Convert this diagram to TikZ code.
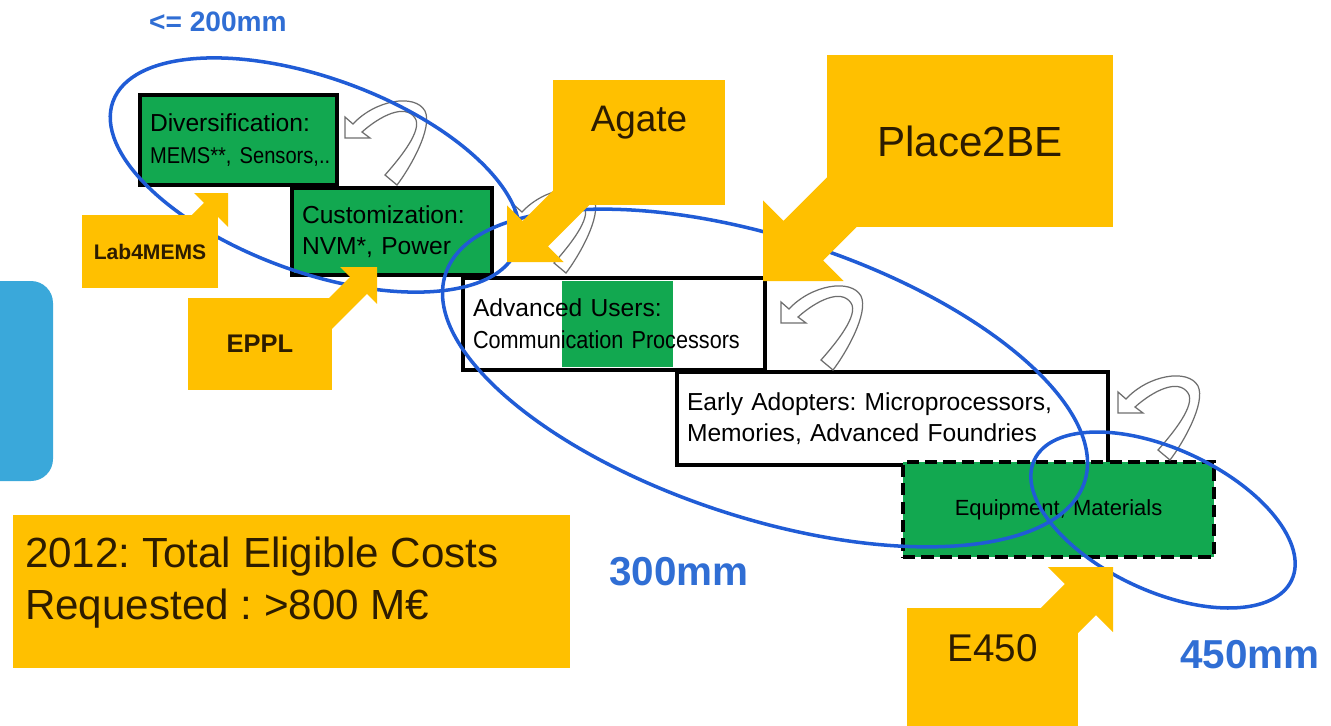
\documentclass[tikz,border=0pt]{standalone}
\usepackage{fontspec}
\setmainfont{Liberation Sans}
\newfontfamily\narrowfont[FakeStretch=0.88]{Liberation Sans}
\usepackage{xcolor}
\definecolor{boxgreen}{RGB}{18,168,80}
\definecolor{callyellow}{RGB}{255,192,0}
\definecolor{ringblue}{RGB}{32,92,214}
\definecolor{sizeblue}{RGB}{48,110,212}
\definecolor{tabblue}{RGB}{58,168,218}
\definecolor{calltext}{RGB}{45,28,0}
\definecolor{turngray}{RGB}{110,110,110}
\frenchspacing
\tikzstyle{stage}=[draw=black, line width=2.2pt, inner xsep=0.2cm, inner ysep=0pt, align=left, font=\fontsize{14}{18}\selectfont]
\tikzstyle{ring}=[draw=ringblue, line width=2pt]
\tikzstyle{turnline}=[draw=turngray, fill=white, line width=0.7pt]
\tikzstyle{callout}=[fill=callyellow, inner sep=0pt, text=calltext]
\tikzstyle{calllabel}=[inner sep=0pt, text=calltext]
\tikzstyle{size}=[text=sizeblue, inner sep=0pt]
\tikzset{
  turnarrow/.pic={
    \filldraw[turnline] (0,0) -- (0,-21) -- (8,-14) .. controls (30,-38) and (70,-45) .. (80,-27)
      .. controls (88,-10) and (65,30) .. (52,47) -- (40,37) .. controls (55,20) and (78,-8) .. (70,-20)
      .. controls (60,-35) and (35,-22) .. (17,-6) -- (25,0) -- cycle;
  },
  pics/pointer/.style n args={3}{code={
    \fill[callyellow] (0,0) -- (-#2,-#2) -- (-#2,-#3) -- (-#1,-#3) -- (-#1,#3) -- (-#2,#3) -- (-#2,#2) -- cycle;
  }}
}
\begin{document}
\begin{tikzpicture}[x=0.02cm, y=-0.02cm]
\useasboundingbox (0,0) rectangle (1331,725);

% side tab
\fill[tabblue, rounded corners=0.44cm] (-40,281) rectangle (53,481);

% stages
\fill[boxgreen] (562,281) rectangle (673,367);
\node[stage, fill=boxgreen, text width=3.54cm, minimum height=1.8cm] (div) at (238.5,140) {Diversification:\\\mbox{\narrowfont\fontsize{13}{18}\selectfont MEMS**, Sensors,..}};
\node[stage, fill=boxgreen, text width=3.6cm, minimum height=1.74cm] (cust) at (392,231.5) {Customization:\\NVM*, Power};
\node[stage, text width=5.64cm, minimum height=1.84cm] (adv) at (614,324) {Advanced Users:\\\mbox{\narrowfont Communication Processors}};
\node[stage, text width=8.22cm, minimum height=1.86cm] (early) at (892.5,418.5) {Early Adopters: Microprocessors,\\Memories, Advanced Foundries};
\node[stage, fill=boxgreen, dash pattern=on 7pt off 3.5pt, align=center, text width=5.82cm, minimum height=1.9cm, font=\fontsize{12.5}{15}\selectfont] (equip) at (1058.5,509.5) {Equipment, Materials};

% loops back
\pic at (345,138) {turnarrow};
\pic at (514,226) {turnarrow};
\pic at (781,323) {turnarrow};
\pic at (1118,413) {turnarrow};

% wafer sizes
\draw[ring, rotate around={-20:(315,175)}] (315,175) ellipse [x radius=215, y radius=97];
\draw[ring, rotate around={-18:(765,378)}] (765,378) ellipse [x radius=336, y radius=140];
\draw[ring, rotate around={-25:(1163,520)}] (1163,520) ellipse [x radius=142, y radius=71];

% projects
\coordinate (labtip) at (228,193);
\coordinate (eppltip) at (377,267);
\coordinate (agatetip) at (507,262);
\coordinate (placetip) at (763,281);
\coordinate (etip) at (1113,567);
\pic[rotate=45] at (labtip) {pointer={60}{24}{10}};
\pic[rotate=45] at (eppltip) {pointer={85}{26}{12}};
\pic[rotate=-135] at (agatetip) {pointer={110}{40}{18}};
\pic[rotate=-135] at (placetip) {pointer={150}{57}{28}};
\pic[rotate=45] at (etip) {pointer={130}{46}{22}};

\node[callout, minimum width=2.72cm, minimum height=1.46cm, font=\bfseries\fontsize{12}{14}\selectfont] (lab) at (150,251.5) {Lab4MEMS};
\node[callout, minimum width=2.88cm, minimum height=1.84cm, font=\bfseries\fontsize{14.5}{17}\selectfont] (eppl) at (260,344) {EPPL};
\node[callout, minimum width=3.44cm, minimum height=2.5cm, label={[calllabel, yshift=0.39cm, font=\fontsize{21}{25}\selectfont]center:Agate}] (agate) at (639,142.5) {};
\node[callout, minimum width=5.72cm, minimum height=3.44cm, font=\fontsize{24}{28}\selectfont] (place) at (970,141) {Place2BE};
\node[callout, minimum width=3.42cm, minimum height=2.64cm, label={[calllabel, yshift=0.52cm, font=\fontsize{22}{26}\selectfont]center:E450}] (e450) at (992.5,674) {};
\node[callout, minimum width=11.14cm, minimum height=3.06cm, label={[calllabel, anchor=north west, xshift=0.24cm, yshift=-0.44cm, align=left, font=\fontsize{24}{29.5}\selectfont]north west:{2012: Total Eligible Costs\\Requested : >800 M€}}] (cost) at (291.5,591.5) {};

\node[size, font=\bfseries\fontsize{16}{19}\selectfont] (w200) at (218,22) {<= 200mm};
\node[size, font=\bfseries\fontsize{23}{27}\selectfont] (w300) at (679,572) {300mm};
\node[size, font=\bfseries\fontsize{23}{27}\selectfont] (w450) at (1250,655) {450mm};
\end{tikzpicture}
\end{document}
